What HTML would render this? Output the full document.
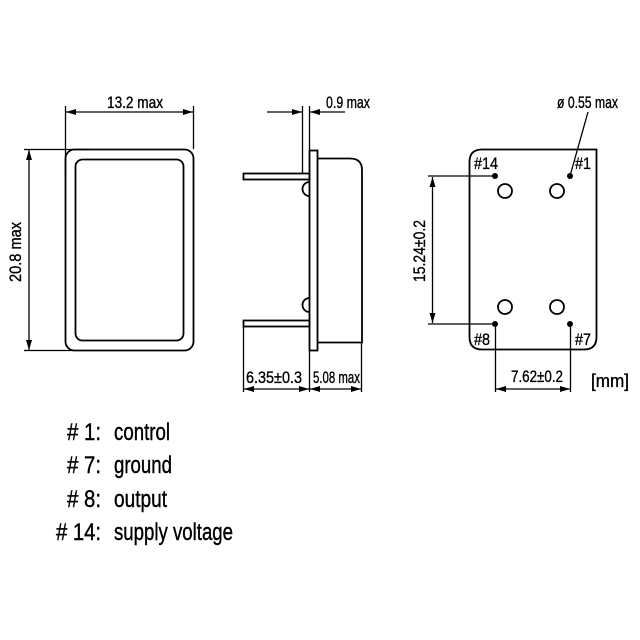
<!DOCTYPE html>
<html><head><meta charset="utf-8"><style>body{margin:0;background:#fff}svg{display:block}</style></head><body>
<svg width="640" height="640" viewBox="0 0 640 640" xmlns="http://www.w3.org/2000/svg" font-family="Liberation Sans, sans-serif">
<defs>
<marker id="a" viewBox="0 0 10 6" refX="10" refY="3" markerWidth="10" markerHeight="6" markerUnits="userSpaceOnUse" orient="auto-start-reverse"><path d="M0,0L10,3L0,6z" fill="#000"/></marker>
</defs>
<g fill="none" stroke="#000" stroke-width="1.3">
<line x1="65.5" y1="106" x2="65.5" y2="175"/>
<line x1="193.5" y1="106" x2="193.5" y2="149"/>
<line x1="66" y1="112" x2="193" y2="112" marker-start="url(#a)" marker-end="url(#a)"/>
<line x1="24" y1="149.5" x2="90" y2="149.5"/>
<line x1="24" y1="350.5" x2="73" y2="350.5"/>
<line x1="29" y1="150" x2="29" y2="350" marker-start="url(#a)" marker-end="url(#a)"/>
<line x1="302.5" y1="106" x2="302.5" y2="173"/>
<line x1="309.5" y1="106" x2="309.5" y2="150"/>
<line x1="267" y1="112" x2="302" y2="112" marker-end="url(#a)"/>
<line x1="345" y1="112" x2="310" y2="112" marker-end="url(#a)"/>
<line x1="243.5" y1="327" x2="243.5" y2="392"/>
<line x1="309.5" y1="351" x2="309.5" y2="392"/>
<line x1="361.5" y1="343" x2="361.5" y2="392"/>
<line x1="244" y1="389" x2="309" y2="389" marker-start="url(#a)" marker-end="url(#a)"/>
<line x1="310" y1="389" x2="361" y2="389" marker-start="url(#a)" marker-end="url(#a)"/>
<line x1="428" y1="176" x2="495" y2="176"/>
<line x1="428" y1="324" x2="495" y2="324"/>
<line x1="432.5" y1="177" x2="432.5" y2="323" marker-start="url(#a)" marker-end="url(#a)"/>
<line x1="495.5" y1="324" x2="495.5" y2="392"/>
<line x1="570.5" y1="324" x2="570.5" y2="392"/>
<line x1="496" y1="389" x2="570" y2="389" marker-start="url(#a)" marker-end="url(#a)"/>
<line x1="570" y1="176" x2="588" y2="112"/>
</g>
<g fill="none" stroke="#000" stroke-width="1.8">
<rect x="65.5" y="149.5" width="128" height="201" rx="9"/>
<rect x="75.5" y="159.5" width="108" height="181" rx="7"/>
<rect x="309.5" y="150.5" width="8" height="200"/>
<path d="M317.5,158.5 H350 Q362,158.5 362,170 V342.5 H317.5"/>
<rect x="243.5" y="173.5" width="66" height="6"/>
<rect x="243.5" y="320.5" width="66" height="6"/>
<path d="M309.5,182 A6,6 0 0 0 309.5,196"/>
<path d="M309.5,298 A6,6 0 0 0 309.5,312"/>
<path d="M596.5,149.5 V337 Q596.5,349.5 584,349.5 H482 Q469.5,349.5 469.5,337 V162 Q469.5,149.5 482,149.5 Z"/>
<circle cx="505" cy="191" r="7"/>
<circle cx="557" cy="191" r="7"/>
<circle cx="505" cy="307" r="7"/>
<circle cx="557" cy="307" r="7"/>
</g>
<g fill="#000">
<circle cx="495" cy="176" r="3"/><circle cx="570" cy="176" r="3"/>
<circle cx="495" cy="324" r="3"/><circle cx="570" cy="324" r="3"/>
</g>
<g font-size="16.5" fill="#000" stroke="#000" stroke-width="0.35">
<text x="107" y="108" textLength="56" lengthAdjust="spacingAndGlyphs">13.2 max</text>
<text transform="translate(21,282) rotate(-90)" textLength="60" lengthAdjust="spacingAndGlyphs">20.8 max</text>
<text x="326" y="108" textLength="44" lengthAdjust="spacingAndGlyphs">0.9 max</text>
<text x="246" y="383" textLength="56" lengthAdjust="spacingAndGlyphs">6.35±0.3</text>
<text x="313" y="383" textLength="47" lengthAdjust="spacingAndGlyphs">5.08 max</text>
<text x="557" y="108" textLength="61" lengthAdjust="spacingAndGlyphs">ø 0.55 max</text>
<text x="474" y="169" textLength="24" lengthAdjust="spacingAndGlyphs">#14</text>
<text x="575" y="169" textLength="16" lengthAdjust="spacingAndGlyphs">#1</text>
<text x="474" y="345" textLength="16" lengthAdjust="spacingAndGlyphs">#8</text>
<text x="575" y="345" textLength="16" lengthAdjust="spacingAndGlyphs">#7</text>
<text transform="translate(425,282) rotate(-90)" textLength="62" lengthAdjust="spacingAndGlyphs">15.24±0.2</text>
<text x="511" y="382" textLength="52" lengthAdjust="spacingAndGlyphs">7.62±0.2</text>
<text x="591" y="387" textLength="38" lengthAdjust="spacingAndGlyphs" font-size="18">[mm]</text>
</g>
<g font-size="24" fill="#000" stroke="#000" stroke-width="0.4">
<text x="67" y="440" textLength="34" lengthAdjust="spacingAndGlyphs"># 1:</text>
<text x="114" y="440" textLength="56" lengthAdjust="spacingAndGlyphs">control</text>
<text x="67" y="473" textLength="34" lengthAdjust="spacingAndGlyphs"># 7:</text>
<text x="114" y="473" textLength="58" lengthAdjust="spacingAndGlyphs">ground</text>
<text x="67" y="507" textLength="34" lengthAdjust="spacingAndGlyphs"># 8:</text>
<text x="114" y="507" textLength="53" lengthAdjust="spacingAndGlyphs">output</text>
<text x="56" y="540" textLength="45" lengthAdjust="spacingAndGlyphs"># 14:</text>
<text x="114" y="540" textLength="119" lengthAdjust="spacingAndGlyphs">supply voltage</text>
</g>
</svg>
</body></html>
